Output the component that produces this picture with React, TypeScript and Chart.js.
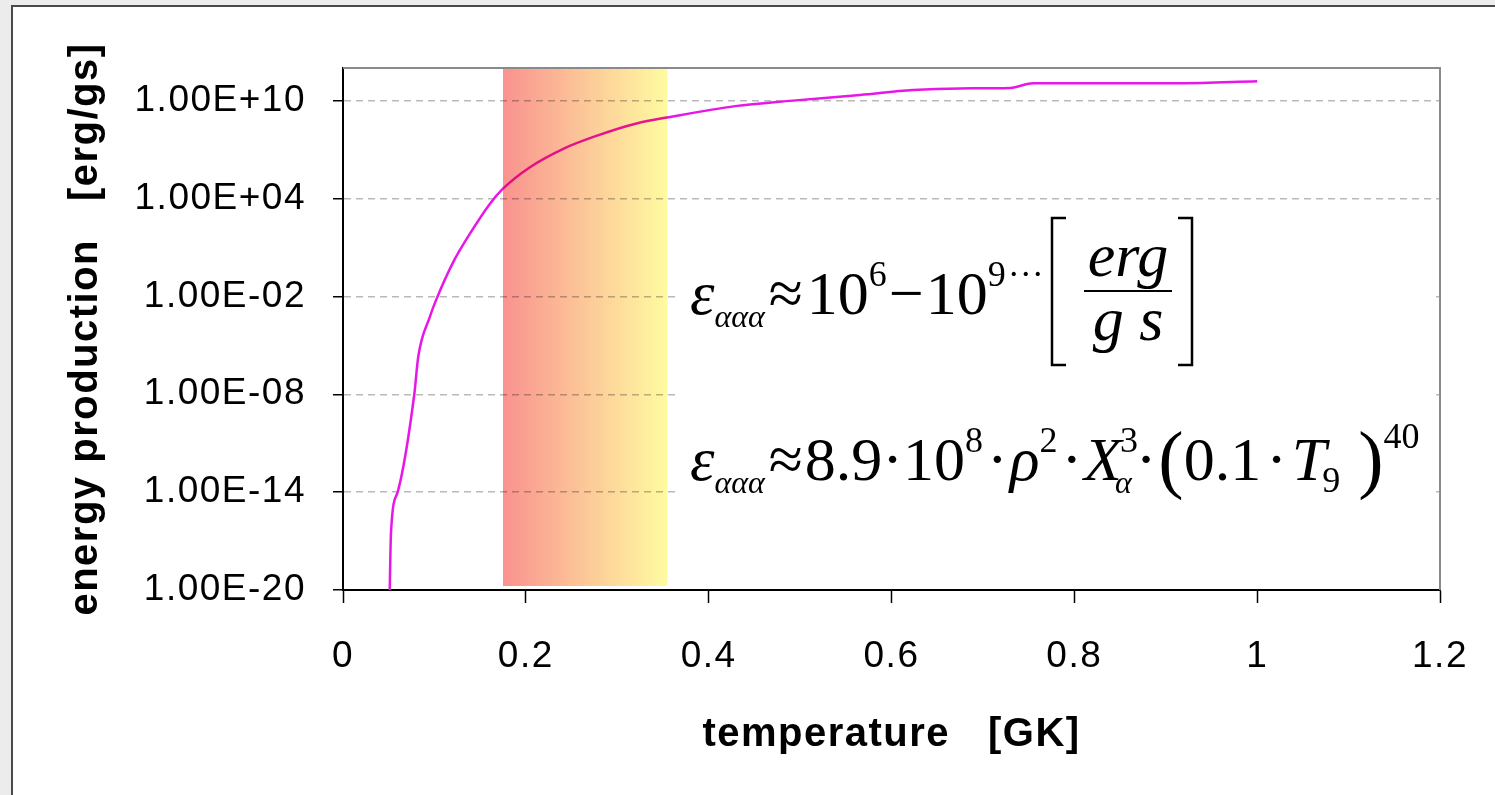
import React, { useEffect, useRef } from "react";
import { Chart, registerables } from "chart.js";

Chart.register(...registerables);

// ---- data ----
const temperatureGK = [
  0.05, 0.0525, 0.0598, 0.078, 0.0823, 0.095, 0.102, 0.121, 0.139, 0.161, 0.175,
  0.2045, 0.241, 0.278, 0.321, 0.358, 0.429, 0.492, 0.5655, 0.6235, 0.675,
  0.73, 0.755, 0.916, 1.0,
];
const energyProduction = [
  1e-24, 3.2e-17, 1e-14, 1e-8, 2e-6, 5.6e-4, 6.3e-3, 1.4, 72, 5e3, 4e4,
  8.3e5, 1.12e7, 7.2e7, 4e8, 1e9, 4.6e9, 1e10, 2.24e10, 4.5e10, 5.6e10,
  6e10, 1.17e11, 1.17e11, 1.55e11,
];
const yTickValues = [1e-20, 1e-14, 1e-8, 1e-2, 1e4, 1e10];
const yTickLabels = ["1.00E-20", "1.00E-14", "1.00E-08", "1.00E-02", "1.00E+04", "1.00E+10"];
const xTickValues = [0, 0.2, 0.4, 0.6, 0.8, 1.0, 1.2];
const xTickLabels = ["0", "0.2", "0.4", "0.6", "0.8", "1", "1.2"];
const heliumBurningBand = [0.175, 0.355];
const xTitle = "temperature   [GK]";
const yTitle = "energy production   [erg/gs]";

const SANS = '"Liberation Sans", Arial, sans-serif';
const SERIF = '"Liberation Serif", "Times New Roman", serif';

type Tok = { t: string; f: string; dy?: number; gap?: number; stack?: boolean };

function drawRun(ctx: CanvasRenderingContext2D, x: number, y: number, toks: Tok[]) {
  let cx = x;
  for (const k of toks) {
    cx += k.gap || 0;
    ctx.font = k.f;
    ctx.fillText(k.t, cx, y + (k.dy || 0));
    if (!k.stack) cx += ctx.measureText(k.t).width;
  }
  return cx;
}

const spacingPlugin = {
  id: "spacing",
  beforeDraw(chart: any) {
    (chart.ctx as any).letterSpacing = "1.5px";
  },
  afterDraw(chart: any) {
    (chart.ctx as any).letterSpacing = "0px";
  },
};

const bandPlugin = {
  id: "band",
  afterDatasetsDraw(chart: any) {
    const { ctx, chartArea, scales } = chart;
    const x1 = scales.x.getPixelForValue(heliumBurningBand[0]);
    const x2 = scales.x.getPixelForValue(heliumBurningBand[1]);
    ctx.save();
    ctx.globalCompositeOperation = "multiply";
    const g = ctx.createLinearGradient(x1, 0, x2, 0);
    g.addColorStop(0, "rgb(249,146,142)");
    g.addColorStop(0.5, "rgb(252,200,152)");
    g.addColorStop(1, "rgb(255,251,160)");
    ctx.fillStyle = g;
    ctx.fillRect(x1, chartArea.top, x2 - x1, chartArea.bottom - chartArea.top - 4);
    ctx.restore();
  },
};

const boxPlugin = {
  id: "formulaBox",
  beforeDatasetsDraw(chart: any) {
    const { ctx, chartArea } = chart;
    ctx.save();
    ctx.fillStyle = "#ffffff";
    ctx.fillRect(chartArea.left + 335, 212, chartArea.right - 8 - (chartArea.left + 335), 350);
    ctx.restore();
  },
  afterDraw(chart: any) {
    const { ctx, chartArea } = chart;
    ctx.save();
    (ctx as any).letterSpacing = "0px";
    // plot area frame (top/right)
    ctx.strokeStyle = "#8a8a8a";
    ctx.lineWidth = 2;
    ctx.beginPath();
    ctx.moveTo(chartArea.left, chartArea.top);
    ctx.lineTo(chartArea.right, chartArea.top);
    ctx.lineTo(chartArea.right, chartArea.bottom);
    ctx.stroke();

    ctx.fillStyle = "#000";
    ctx.strokeStyle = "#000";
    ctx.textBaseline = "alphabetic";
    ctx.textAlign = "left";
    const N = `62px ${SERIF}`;
    const P = `76px ${SERIF}`;
    const I = `italic 62px ${SERIF}`;
    const S = `36px ${SERIF}`;
    const SI = `italic 32px ${SERIF}`;

    // line 1
    drawRun(ctx, 690, 314, [
      { t: "ε", f: I },
      { t: "ααα", f: SI, dy: 13 },
      { t: "≈", f: N, gap: 4 },
      { t: "10", f: N, gap: 4 },
      { t: "6", f: S, dy: -28 },
      { t: "−", f: N, gap: 2 },
      { t: "10", f: N, gap: 2 },
      { t: "9", f: S, dy: -28 },
      { t: "···", f: S, dy: -28, gap: 2 },
    ]);
    // brackets
    ctx.lineWidth = 2.5;
    const bt = 218, bb = 365;
    ctx.beginPath();
    ctx.moveTo(1066, bt); ctx.lineTo(1052, bt); ctx.lineTo(1052, bb); ctx.lineTo(1066, bb);
    ctx.moveTo(1178, bt); ctx.lineTo(1192, bt); ctx.lineTo(1192, bb); ctx.lineTo(1178, bb);
    ctx.stroke();
    // fraction
    ctx.lineWidth = 2;
    ctx.beginPath();
    ctx.moveTo(1084, 291); ctx.lineTo(1172, 291);
    ctx.stroke();
    ctx.textAlign = "center";
    ctx.font = I;
    ctx.fillText("erg", 1128, 276);
    ctx.fillText("g s", 1128, 340);
    ctx.textAlign = "left";

    // line 2
    drawRun(ctx, 690, 480, [
      { t: "ε", f: I },
      { t: "ααα", f: SI, dy: 13 },
      { t: "≈", f: N, gap: 4 },
      { t: "8.9·10", f: N, gap: 2 },
      { t: "8", f: S, dy: -28 },
      { t: "·", f: N, gap: 4 },
      { t: "ρ", f: I, gap: 2 },
      { t: "2", f: S, dy: -28 },
      { t: "·", f: N, gap: 4 },
      { t: "X", f: I, gap: 2 },
      { t: "3", f: S, dy: -28, gap: -2, stack: true },
      { t: "α", f: SI, dy: 13, gap: -5 },
      { t: "·", f: N, gap: 4 },
      { t: "(", f: P, gap: 2, dy: 4 },
      { t: "0.1", f: N },
      { t: "·", f: N, gap: 5 },
      { t: "T", f: I, gap: 5 },
      { t: "9", f: S, dy: 12, gap: -4 },
      { t: ")", f: P, gap: 18, dy: 4 },
      { t: "40", f: S, dy: -32 },
    ]);
    ctx.restore();
  },
};

export default function App() {
  const ref = useRef<HTMLCanvasElement | null>(null);

  useEffect(() => {
    if (!ref.current) return;
    const points = temperatureGK.map((t, i) => ({ x: t, y: energyProduction[i] }));
    const chart = new Chart(ref.current, {
      type: "line",
      data: {
        datasets: [
          {
            data: points,
            borderColor: "#e817e8",
            borderWidth: 2.5,
            pointRadius: 0,
            cubicInterpolationMode: "monotone",
            fill: false,
          },
        ],
      },
      options: {
        animation: false,
        responsive: false,
        events: [],
        layout: { padding: { left: 0, top: 68, right: 55, bottom: 25 } },
        plugins: { legend: { display: false }, tooltip: { enabled: false } },
        scales: {
          x: {
            type: "linear",
            min: 0,
            max: 1.2,
            afterBuildTicks: (s: any) => {
              s.ticks = xTickValues.map((v) => ({ value: v }));
            },
            afterFit: (s: any) => {
              s.height = 180;
              s.paddingLeft = 0;
              s.paddingRight = 0;
            },
            ticks: {
              autoSkip: false,
              maxRotation: 0,
              color: "#000",
              font: { family: SANS, size: 37 },
              padding: 32,
              callback: (_v: any, i: number) => xTickLabels[i],
            },
            grid: {
              drawOnChartArea: false,
              drawTicks: true,
              tickLength: 13,
              tickColor: "#000",
              tickWidth: 1.5,
            },
            border: { color: "#000", width: 2 },
            title: {
              display: true,
              text: xTitle,
              color: "#000",
              font: { family: SANS, size: 40, weight: "bold" },
              padding: { top: 0, bottom: 11 },
            },
          },
          y: {
            type: "logarithmic",
            min: 1e-20,
            max: 1e12,
            afterBuildTicks: (s: any) => {
              s.ticks = yTickValues.map((v) => ({ value: v }));
            },
            afterFit: (s: any) => {
              s.width = 343;
              s.paddingTop = 0;
              s.paddingBottom = 0;
            },
            ticks: {
              autoSkip: false,
              color: "#000",
              font: { family: SANS, size: 37 },
              padding: 27,
              callback: (_v: any, i: number) => yTickLabels[i],
            },
            grid: {
              drawOnChartArea: true,
              color: (c: any) => (c.tick && c.tick.value === yTickValues[0] ? "rgba(0,0,0,0)" : "#b9b9b9"),
              lineWidth: 1.5,
              tickLength: 10,
              tickColor: "#000",
              tickWidth: 1.5,
              tickBorderDash: [],
            },
            border: { color: "#000", width: 2, dash: [7, 5] },
            title: {
              display: true,
              text: yTitle,
              color: "#000",
              font: { family: SANS, size: 40, weight: "bold" },
              padding: { top: 62, bottom: 0 },
            },
          },
        },
      },
      plugins: [spacingPlugin, bandPlugin, boxPlugin],
    } as any);
    return () => chart.destroy();
  }, []);

  return (
    <div
      style={{
        position: "fixed",
        left: 0,
        top: 0,
        width: 1495,
        height: 795,
        background: "#ececec",
        overflow: "hidden",
      }}
    >
      <div
        style={{
          position: "absolute",
          left: 11,
          top: 5,
          width: 1600,
          height: 900,
          background: "#fff",
          borderLeft: "2px solid #4a4a4a",
          borderTop: "2px solid #4a4a4a",
        }}
      />
      <canvas
        ref={ref}
        width={1495}
        height={795}
        style={{ position: "absolute", left: 0, top: 0, width: 1495, height: 795 }}
      />
    </div>
  );
}
